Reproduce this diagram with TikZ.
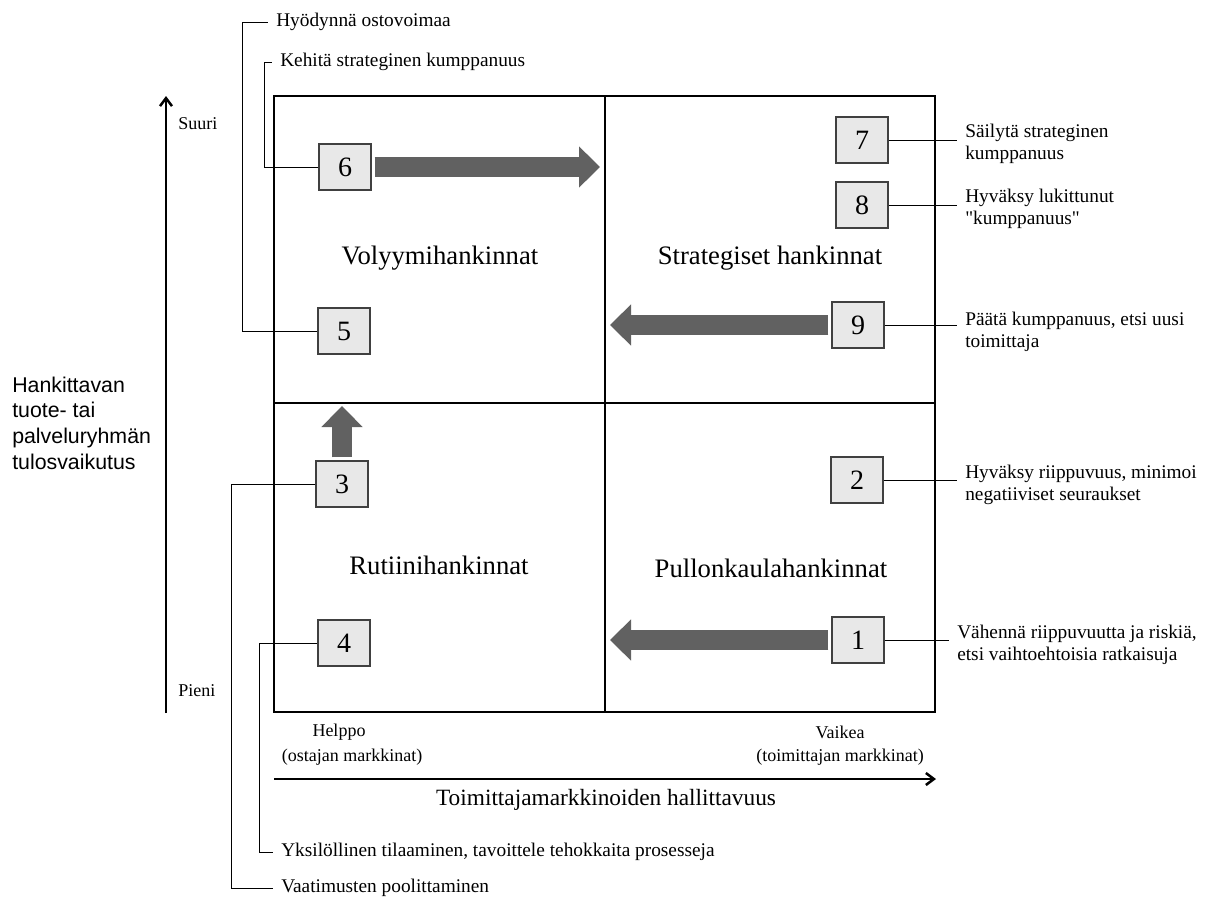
\documentclass[tikz,border=0pt]{standalone}
\usepackage{fontspec}
\setmainfont{Liberation Serif}
\setsansfont{Liberation Sans}
\usetikzlibrary{arrows.meta}

\definecolor{boxgray}{HTML}{E8E8E8}
\definecolor{boxline}{HTML}{404040}
\definecolor{arrowgray}{HTML}{616161}

\begin{document}
\begin{tikzpicture}[x=0.75pt, y=-0.75pt]
	\tikzstyle{numbox} = [
		draw=boxline, line width=0.9pt, fill=boxgray,
		rectangle, inner sep=0pt,
		minimum width=39pt, minimum height=34.5pt,
		font={\fontsize{21}{24}\selectfont}];
	\tikzstyle{quad} = [
		inner sep=0pt,
		font={\fontsize{20}{24}\selectfont}];
	\tikzstyle{note} = [
		anchor=west, align=left, inner xsep=6pt, inner ysep=0pt,
		font={\fontsize{14.5}{16.5}\selectfont}];
	\tikzstyle{axislabel} = [
		inner sep=0pt,
		font={\fontsize{13.5}{16}\selectfont}];
	\tikzstyle{lead} = [line width=0.75pt];
	\tikzstyle{move} = [
		draw=arrowgray, line width=14.5pt,
		-{Triangle[width=30pt, length=15.75pt]}, shorten <=2.25pt];
	\tikzstyle{axis} = [
		line width=1.9pt, -{Straight Barb[length=6pt, width=9pt]}];

	\useasboundingbox (0,0) rectangle (1206,900);

	% grid
	\coordinate (nw) at (274,96);
	\coordinate (se) at (935,712);
	\coordinate (mid) at (605,403);
	\draw[line width=1.5pt] (nw) rectangle (se);
	\draw[line width=1.1pt] (mid |- nw) -- (mid |- se);
	\draw[line width=1.1pt] (mid -| nw) -- (mid -| se);

	\node[quad] (volyymi) at (440,258) {Volyymihankinnat};
	\node[quad] (strateg) at (770,258) {Strategiset hankinnat};
	\node[quad] (rutiini) at (439,565) {Rutiinihankinnat};
	\node[quad] (pullon) at (771,568) {Pullonkaulahankinnat};

	% numbered boxes
	\node[numbox] (b6) at (345,167) {6};
	\node[numbox] (b5) at (344,331) {5};
	\node[numbox] (b3) at (342,484) {3};
	\node[numbox] (b4) at (344,643) {4};
	\node[numbox] (b7) at (862,140) {7};
	\node[numbox] (b8) at (862,205) {8};
	\node[numbox] (b9) at (858,325) {9};
	\node[numbox] (b2) at (857,480) {2};
	\node[numbox] (b1) at (858,640) {1};

	% moves
	\coordinate (to6) at (600,167);
	\coordinate (to9) at (610,325);
	\coordinate (to1) at (610,640);
	\coordinate (to3) at (342,406);
	\draw[move] (b6) -- (to6);
	\draw[move] (b9) -- (to9);
	\draw[move] (b1) -- (to1);
	\draw[move] (b3) -- (to3);

	% notes, right
	\node[note] (n7) at (957,144) {Säilytä strateginen\\kumppanuus};
	\node[note] (n8) at (957,209) {Hyväksy lukittunut\\\textquotedbl kumppanuus\textquotedbl};
	\node[note] (n9) at (957,332) {Päätä kumppanuus, etsi uusi\\toimittaja};
	\node[note] (n2) at (957,485) {Hyväksy riippuvuus, minimoi\\negatiiviset seuraukset};
	\node[note] (n1) at (949,645) {Vähennä riippuvuutta ja riskiä,\\etsi vaihtoehtoisia ratkaisuja};
	\draw[lead] (b7.east) -- (b7.east -| n7.west);
	\draw[lead] (b8.east) -- (b8.east -| n8.west);
	\draw[lead] (b9.east) -- (b9.east -| n9.west);
	\draw[lead] (b2.east) -- (b2.east -| n2.west);
	\draw[lead] (b1.east) -- (b1.east -| n1.west);

	% notes, left
	\node[note] (hyo) at (268,22) {Hyödynnä ostovoimaa};
	\node[note] (keh) at (272,62) {Kehitä strateginen kumppanuus};
	\node[note] (yks) at (273,852) {Yksilöllinen tilaaminen, tavoittele tehokkaita prosesseja};
	\node[note] (vaa) at (273,888) {Vaatimusten poolittaminen};
	\draw[lead] (b5.west) -- ++(-75,0) |- (hyo.west);
	\draw[lead] (b6.west) -- ++(-54,0) |- (keh.west);
	\draw[lead] (b4.west) -- ++(-58,0) |- (yks.west);
	\draw[lead] (b3.west) -- ++(-84,0) |- (vaa.west);

	% axes
	\coordinate (vlow) at (166,713);
	\coordinate (vhigh) at (166,96);
	\coordinate (hlow) at (274,779);
	\coordinate (hhigh) at (936,779);
	\draw[axis] (vlow) -- (vhigh);
	\draw[axis] (hlow) -- (hhigh);

	\node[axislabel, anchor=west] (suuri) at (178,124) {Suuri};
	\node[axislabel, anchor=west] (pieni) at (178,691) {Pieni};
	\node[axislabel] (helppo) at (339,732) {Helppo};
	\node[axislabel] (ostmk) at (352,757) {(ostajan markkinat)};
	\node[axislabel] (vaikea) at (840,732) {Vaikea};
	\node[axislabel] (toimk) at (840,757) {(toimittajan markkinat)};
	\node[inner sep=0pt, font={\fontsize{17.5}{21}\selectfont}] (hallit) at (606,800)
		{Toimittajamarkkinoiden hallittavuus};
	\node[inner sep=0pt, anchor=west, align=left,
		font={\sffamily\fontsize{16}{19.3}\selectfont}] (tulos) at (12,423)
		{Hankittavan\\tuote- tai\\palveluryhmän\\tulosvaikutus};
\end{tikzpicture}
\end{document}
